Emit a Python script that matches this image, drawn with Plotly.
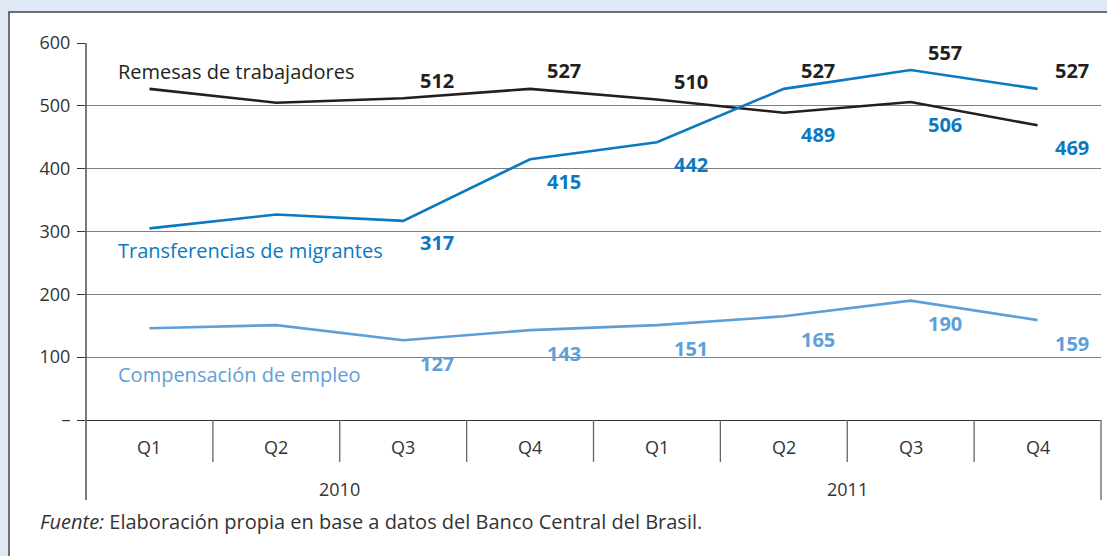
import plotly.graph_objects as go

quarters = ["Q1", "Q2", "Q3", "Q4", "Q1", "Q2", "Q3", "Q4"]
years = ["2010", "2011"]
remesas = [527, 505, 512, 527, 510, 489, 506, 469]
transferencias = [305, 327, 317, 415, 442, 527, 557, 527]
compensacion = [146, 151, 127, 143, 151, 165, 190, 159]
series_names = ["Remesas de trabajadores", "Transferencias de migrantes", "Compensación de empleo"]
y_ticks = [0, 100, 200, 300, 400, 500, 600]
y_ticktext = ["–", "100", "200", "300", "400", "500", "600"]
label_from = 2
footer = "<i>Fuente:</i> Elaboración propia en base a datos del Banco Central del Brasil."

BLACK = "#231f20"
BLUE = "#0b79c2"
LIGHT = "#5e9fd8"
TXT = "#333333"
FONT = "Open Sans"

W, H = 1107, 556
L, R, T, B = 86, 6, 43, 136
PW, PH = W - L - R, H - T - B


def px_x(p):
    return (p - L) / PW


def px_y(p):
    return (H - B - p) / PH


n = len(quarters)
xs = [i + 0.5 for i in range(n)]

fig = go.Figure()
for vals, col in [(remesas, BLACK), (transferencias, BLUE), (compensacion, LIGHT)]:
    fig.add_trace(go.Scatter(x=xs, y=vals, mode="lines", line=dict(color=col, width=2.6),
                             hoverinfo="skip", showlegend=False))

shapes = []
# white panel
shapes.append(dict(type="rect", xref="paper", yref="paper", x0=px_x(9), x1=px_x(1115),
                   y0=px_y(565), y1=px_y(12), fillcolor="white",
                   line=dict(color="#444444", width=1.5), layer="below"))
# y axis line extended
shapes.append(dict(type="line", xref="paper", yref="paper", x0=0, x1=0, y0=px_y(500), y1=1,
                   line=dict(color=TXT, width=1.3)))
# right end line
shapes.append(dict(type="line", xref="paper", yref="paper", x0=1, x1=1, y0=px_y(500), y1=0,
                   line=dict(color="#777777", width=1.5)))
# category dividers
for k in range(1, n):
    shapes.append(dict(type="line", xref="x", yref="paper", x0=k, x1=k, y0=px_y(462), y1=0,
                       line=dict(color="#666666", width=1.3)))

annotations = []
for i, q in enumerate(quarters):
    annotations.append(dict(x=i + 0.5, xref="x", y=px_y(447), yref="paper", text=q,
                            showarrow=False, font=dict(family=FONT, size=18, color=TXT),
                            yanchor="middle"))
for j, yr in enumerate(years):
    annotations.append(dict(x=4 * j + 2, xref="x", y=px_y(489), yref="paper", text=yr,
                            showarrow=False, font=dict(family=FONT, size=18, color=TXT),
                            yanchor="middle"))
annotations.append(dict(x=px_x(38), xref="paper", y=px_y(521), yref="paper", text=footer,
                        showarrow=False, xanchor="left", yanchor="middle",
                        font=dict(family=FONT, size=20, color=TXT)))

# series names
for name, col, yv in zip(series_names, [BLACK, BLUE, LIGHT], [555, 269, 72]):
    annotations.append(dict(x=0.24, xref="x", y=yv, yref="y", text=name, showarrow=False,
                            xanchor="left", yanchor="middle",
                            font=dict(family=FONT, size=20, color=col)))

# data labels
lab_font = lambda c: dict(family=FONT, size=20, color=c)
for i in range(label_from, n):
    top = max(remesas[i], transferencias[i])
    bot = min(remesas[i], transferencias[i])
    xl = i + 0.5 + 0.27
    annotations.append(dict(x=xl, y=top, xref="x", yref="y", text=f"<b>{top}</b>",
                            showarrow=False, yshift=18, font=lab_font(BLACK)))
    annotations.append(dict(x=xl, y=bot, xref="x", yref="y", text=f"<b>{bot}</b>",
                            showarrow=False, yshift=-22, font=lab_font(BLUE)))
    annotations.append(dict(x=xl, y=compensacion[i], xref="x", yref="y",
                            text=f"<b>{compensacion[i]}</b>",
                            showarrow=False, yshift=-23, font=lab_font(LIGHT)))

fig.update_layout(
    width=W, height=H,
    margin=dict(l=L, r=R, t=T, b=B, pad=0),
    paper_bgcolor="#dfe9f5",
    plot_bgcolor="white",
    shapes=shapes,
    annotations=annotations,
    xaxis=dict(range=[0, n], showgrid=False, zeroline=False, showticklabels=False,
               showline=True, linecolor=TXT, linewidth=1.3, ticks="", fixedrange=True),
    yaxis=dict(range=[0, 600], tickvals=y_ticks, ticktext=y_ticktext,
               showgrid=True, gridcolor="#808080", gridwidth=1.3, zeroline=False,
               showline=False, ticks="outside", ticklen=8, tickcolor=TXT, tickwidth=1.2,
               tickfont=dict(family=FONT, size=18, color=TXT), ticklabelstandoff=3,
               fixedrange=True),
    font=dict(family=FONT),
)

fig.write_html("out.html", config={"displayModeBar": False},
               post_script="document.body.style.margin='0';document.body.style.overflow='hidden';")
